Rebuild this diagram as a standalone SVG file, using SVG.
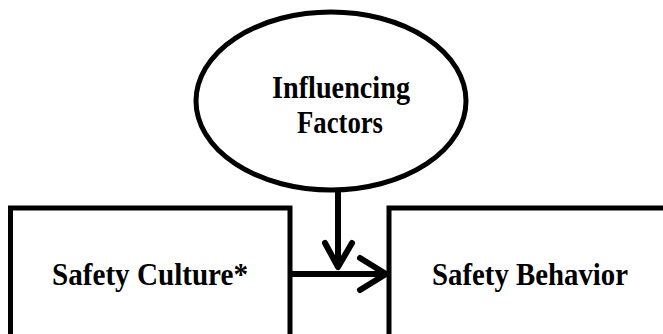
<svg xmlns="http://www.w3.org/2000/svg" width="663" height="334" viewBox="0 0 663 334">
<style>
.shape{fill:#fff;stroke:#000;stroke-width:5}
.lbl{font-family:"Liberation Serif","Times New Roman",serif;font-weight:bold;font-size:32px;fill:#000;text-anchor:middle}
.conn{fill:none;stroke:#000;stroke-width:6;stroke-linecap:round;stroke-linejoin:round}
</style>
<rect width="663" height="334" fill="#fff"/>
<g id="safety-culture">
<rect class="shape" x="10.5" y="208" width="279.5" height="140"/>
<text class="lbl" x="150" y="285" textLength="196" lengthAdjust="spacingAndGlyphs">Safety Culture*</text>
</g>
<g id="safety-behavior">
<rect class="shape" x="389" y="208" width="300" height="140"/>
<text class="lbl" x="530" y="285" textLength="196" lengthAdjust="spacingAndGlyphs">Safety Behavior</text>
</g>
<g id="influencing-factors">
<ellipse class="shape" cx="331" cy="101" rx="135" ry="89" stroke-width="4"/>
<text class="lbl" x="341" y="98" textLength="138" lengthAdjust="spacingAndGlyphs">Influencing</text>
<text class="lbl" x="340" y="133" textLength="86" lengthAdjust="spacingAndGlyphs">Factors</text>
</g>
<g id="connectors">
<path class="conn" d="M338 191 V266 M325 243 L338 267 L352 243"/>
<path class="conn" d="M292 274 H385 M360 258 L386 274 L360 290"/>
</g>
</svg>
